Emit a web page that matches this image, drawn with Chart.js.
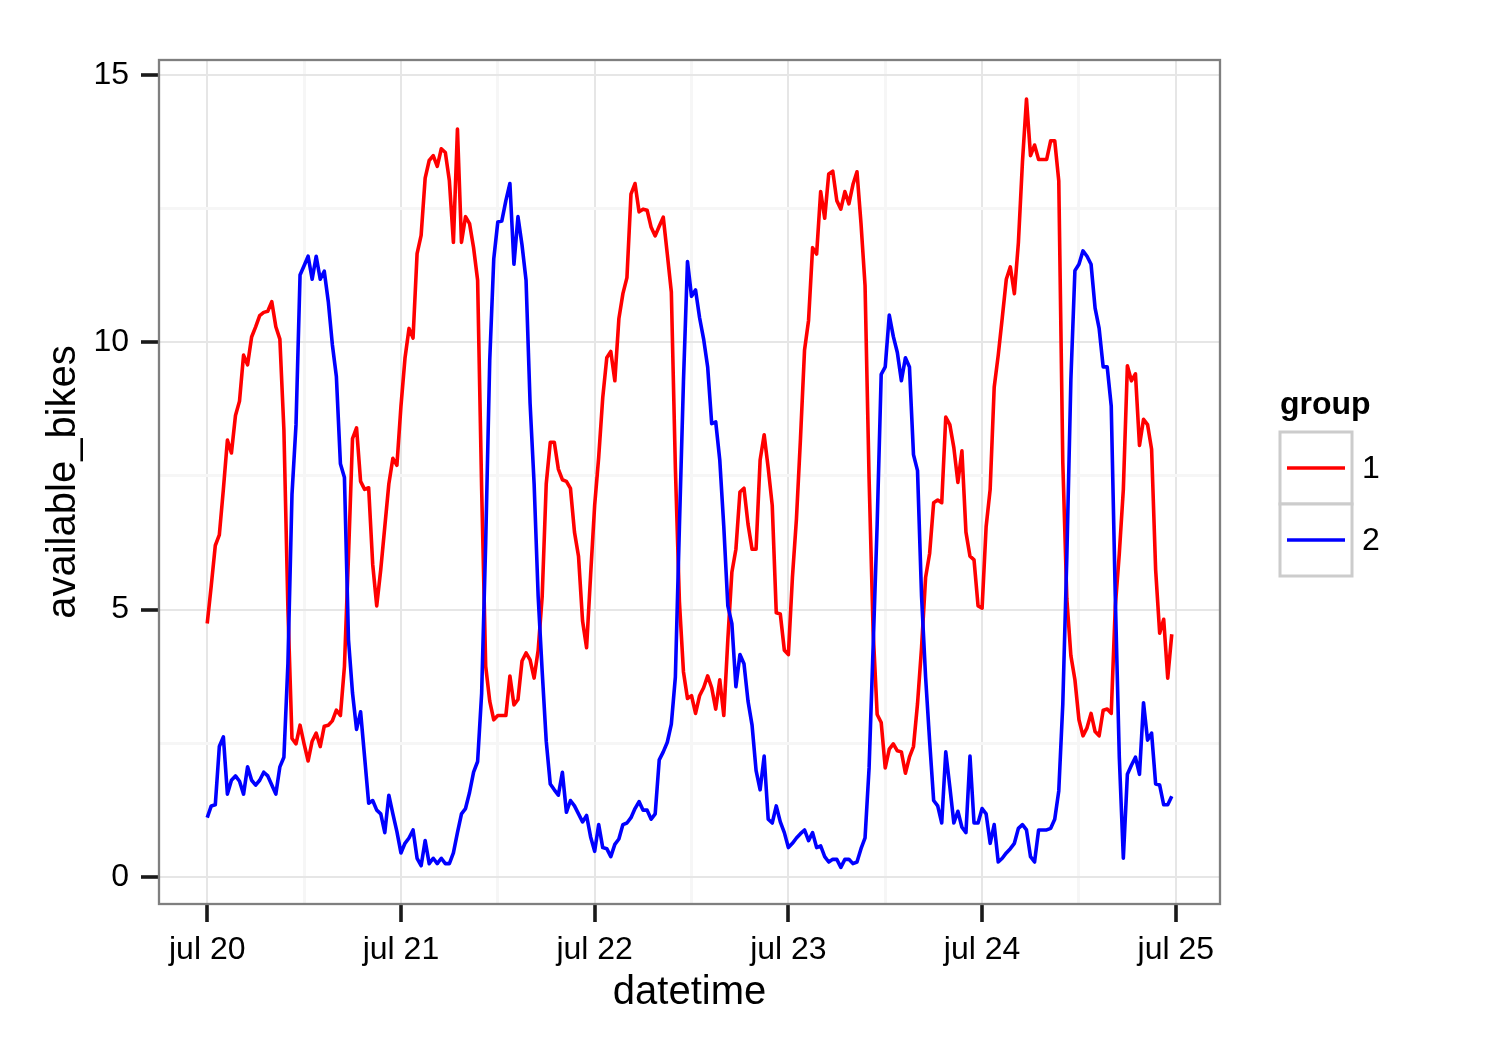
<!DOCTYPE html>
<html>
<head>
<meta charset="utf-8">
<script src="https://cdn.jsdelivr.net/npm/chart.js@4.4.1/dist/chart.umd.min.js"></script>
<style>
  html, body { margin: 0; padding: 0; background: #fff; }
  #wrap { width: 1500px; height: 1050px; }
</style>
</head>
<body>
<div id="wrap"><canvas id="bikesChart" width="1500" height="1050"></canvas></div>
<script>
// readings every half hour, starting jul 20 00:00
const stepHours = 0.5;

const group1Bikes = [
  4.74, 5.45, 6.2, 6.4, 7.25, 8.17, 7.93, 8.63, 8.9, 9.76, 9.58, 10.1,
  10.29, 10.5, 10.56, 10.58, 10.76, 10.29, 10.06, 8.36, 5.0, 2.59, 2.49, 2.84,
  2.49, 2.17, 2.54, 2.69, 2.44, 2.82, 2.84, 2.92, 3.12, 3.02, 3.94, 6.0,
  8.2, 8.4, 7.4, 7.25, 7.28, 5.85, 5.07, 5.75, 6.55, 7.35, 7.83, 7.7,
  8.8, 9.7, 10.26, 10.08, 11.66, 12.0, 13.07, 13.4, 13.49, 13.29, 13.62, 13.55,
  13.02, 11.87, 13.99, 11.87, 12.35, 12.22, 11.77, 11.16, 7.25, 3.94, 3.29, 2.94,
  3.02, 3.02, 3.02, 3.76, 3.22, 3.32, 4.04, 4.19, 4.06, 3.72, 4.24, 5.25,
  7.35, 8.13, 8.13, 7.63, 7.43, 7.4, 7.27, 6.45, 6.0, 4.79, 4.29, 5.65,
  6.95, 7.85, 8.96, 9.71, 9.83, 9.28, 10.44, 10.91, 11.21, 12.77, 12.97, 12.44,
  12.49, 12.47, 12.15, 11.99, 12.17, 12.34, 11.65, 10.94, 7.65, 5.15, 3.84, 3.34,
  3.39, 3.06, 3.39, 3.54, 3.76, 3.54, 3.14, 3.69, 3.02, 4.44, 5.7, 6.13,
  7.2, 7.27, 6.6, 6.13, 6.13, 7.8, 8.27, 7.65, 6.95, 4.94, 4.92, 4.24,
  4.16, 5.6, 6.7, 8.2, 9.85, 10.41, 11.77, 11.65, 12.82, 12.32, 13.15, 13.2,
  12.65, 12.49, 12.82, 12.59, 12.95, 13.19, 12.22, 11.06, 7.45, 4.6, 3.04, 2.89,
  2.04, 2.39, 2.49, 2.36, 2.34, 1.94, 2.24, 2.44, 3.24, 4.29, 5.6, 6.05,
  7.0, 7.05, 7.0, 8.6, 8.46, 8.03, 7.38, 7.97, 6.45, 6.0, 5.93, 5.07,
  5.03, 6.55, 7.25, 9.16, 9.76, 10.46, 11.18, 11.41, 10.91, 11.87, 13.37, 14.55,
  13.49, 13.69, 13.42, 13.42, 13.42, 13.77, 13.77, 13.02, 7.75, 5.2, 4.14, 3.69,
  2.94, 2.64, 2.79, 3.06, 2.72, 2.64, 3.12, 3.14, 3.06, 5.05, 6.05, 7.25,
  9.56, 9.28, 9.41, 8.07, 8.56, 8.46, 8.0, 5.75, 4.56, 4.82, 3.72, 4.54
];

const group2Bikes = [
  1.11, 1.33, 1.35, 2.44, 2.62, 1.55, 1.81, 1.89, 1.79, 1.55, 2.06, 1.81,
  1.72, 1.81, 1.96, 1.89, 1.72, 1.55, 2.06, 2.24, 4.0, 7.15, 8.46, 11.26,
  11.43, 11.61, 11.18, 11.61, 11.18, 11.33, 10.76, 9.96, 9.36, 7.73, 7.47, 4.44,
  3.44, 2.76, 3.09, 2.24, 1.38, 1.43, 1.25, 1.18, 0.83, 1.53, 1.18, 0.85,
  0.45, 0.63, 0.73, 0.88, 0.35, 0.21, 0.68, 0.25, 0.35, 0.25, 0.35, 0.25,
  0.25, 0.45, 0.83, 1.18, 1.28, 1.58, 1.96, 2.16, 3.44, 6.25, 9.66, 11.56,
  12.25, 12.27, 12.65, 12.97, 11.46, 12.35, 11.82, 11.16, 8.86, 7.35, 5.25, 3.84,
  2.54, 1.74, 1.63, 1.53, 1.96, 1.21, 1.43, 1.33, 1.18, 1.03, 1.15, 0.75,
  0.48, 0.98, 0.55, 0.53, 0.38, 0.61, 0.71, 0.98, 1.01, 1.11, 1.28, 1.41,
  1.25, 1.25, 1.08, 1.18, 2.19, 2.34, 2.52, 2.86, 3.74, 6.55, 9.26, 11.51,
  10.86, 10.98, 10.46, 10.06, 9.54, 8.48, 8.51, 7.8, 6.55, 5.07, 4.74, 3.56,
  4.16, 3.99, 3.29, 2.84, 1.99, 1.63, 2.26, 1.08, 1.01, 1.33, 1.03, 0.83,
  0.55, 0.63, 0.73, 0.81, 0.88, 0.68, 0.83, 0.55, 0.58, 0.38, 0.28, 0.33,
  0.33, 0.18, 0.33, 0.33, 0.25, 0.28, 0.53, 0.73, 2.04, 4.3, 6.6, 9.4,
  9.54, 10.51, 10.11, 9.81, 9.28, 9.71, 9.54, 7.9, 7.6, 5.25, 3.74, 2.54,
  1.43, 1.33, 1.01, 2.34, 1.69, 1.01, 1.23, 0.93, 0.83, 2.26, 1.01, 1.01,
  1.28, 1.18, 0.63, 0.98, 0.28, 0.35, 0.45, 0.53, 0.63, 0.91, 0.98, 0.88,
  0.38, 0.28, 0.88, 0.88, 0.88, 0.91, 1.08, 1.61, 3.24, 6.0, 9.3, 11.34,
  11.46, 11.71, 11.61, 11.46, 10.64, 10.26, 9.54, 9.54, 8.81, 5.25, 2.24, 0.35,
  1.92, 2.09, 2.24, 1.92, 3.26, 2.56, 2.69, 1.74, 1.72, 1.35, 1.35, 1.51
];

const groupLabels = ['1', '2'];
const groupColors = ['#FF0000', '#0000FF'];
const legendTitle = 'group';

const xTickHours = [0, 24, 48, 72, 96, 120];
const xTickLabels = ['jul 20', 'jul 21', 'jul 22', 'jul 23', 'jul 24', 'jul 25'];
const xMinorHours = [12, 36, 60, 84, 108];
const yTickValues = [0, 5, 10, 15];
const yMinorValues = [2.5, 7.5, 12.5];

const xTitle = 'datetime';
const yTitle = 'available_bikes';

const FONT = '"Liberation Sans", Arial, Helvetica, sans-serif';
const MAJOR_GRID = '#E6E6E6';
const MINOR_GRID = '#F6F6F6';
const TICK_COLOR = '#1a1a1a';
const LINE_W = 3.6;

function toPoints(values) {
  return values.map((v, i) => ({ x: i * stepHours, y: v }));
}

const isMajorX = v => xTickHours.includes(v);
const isMajorY = v => yTickValues.includes(v);

// ggplot-ish panel border and legend box
const ggExtras = {
  id: 'ggExtras',
  afterDatasetsDraw(chart) {
    const { ctx, chartArea: a } = chart;
    ctx.save();
    ctx.strokeStyle = '#7F7F7F';
    ctx.lineWidth = 2.3;
    ctx.strokeRect(a.left, a.top, a.right - a.left, a.bottom - a.top);
    ctx.restore();
  },
  afterDraw(chart) {
    const ctx = chart.ctx;
    const left = 1280, top = 432, keyW = 72, keyH = 72;
    ctx.save();
    ctx.fillStyle = '#000';
    ctx.font = 'bold 32px ' + FONT;
    ctx.textBaseline = 'alphabetic';
    ctx.textAlign = 'left';
    ctx.fillText(legendTitle, left, 414);
    chart.data.datasets.forEach((ds, i) => {
      const y = top + i * keyH;
      ctx.fillStyle = '#fff';
      ctx.fillRect(left, y, keyW, keyH);
      ctx.strokeStyle = '#CCCCCC';
      ctx.lineWidth = 3;
      ctx.strokeRect(left, y, keyW, keyH);
      ctx.beginPath();
      ctx.moveTo(left + 7, y + keyH / 2);
      ctx.lineTo(left + keyW - 7, y + keyH / 2);
      ctx.strokeStyle = ds.borderColor;
      ctx.lineWidth = LINE_W;
      ctx.stroke();
      ctx.fillStyle = '#000';
      ctx.font = '32px ' + FONT;
      ctx.textBaseline = 'middle';
      ctx.fillText(ds.label, left + keyW + 10, y + keyH / 2 + 1);
    });
    ctx.restore();
  }
};

const ctx = document.getElementById('bikesChart').getContext('2d');
const chart = new Chart(ctx, {
  type: 'line',
  data: {
    datasets: [
      {
        label: groupLabels[0],
        data: toPoints(group1Bikes),
        borderColor: groupColors[0],
        borderWidth: LINE_W,
        pointRadius: 0,
        tension: 0,
        borderJoinStyle: 'round',
        order: 2,
      },
      {
        label: groupLabels[1],
        data: toPoints(group2Bikes),
        borderColor: groupColors[1],
        borderWidth: LINE_W,
        pointRadius: 0,
        tension: 0,
        borderJoinStyle: 'round',
        order: 1,
      },
    ],
  },
  options: {
    responsive: false,
    animation: false,
    devicePixelRatio: 1,
    layout: { padding: { left: 0, top: 60, right: 280, bottom: 0 } },
    plugins: {
      legend: { display: false },
      tooltip: { enabled: false },
    },
    scales: {
      x: {
        type: 'linear',
        min: -5.975,
        max: 125.475,
        afterBuildTicks: axis => {
          axis.ticks = [...xTickHours, ...xMinorHours].sort((a, b) => a - b).map(v => ({ value: v }));
        },
        afterFit: scale => { scale.height = 146; },
        border: { display: false },
        grid: {
          color: c => isMajorX(c.tick.value) ? MAJOR_GRID : MINOR_GRID,
          lineWidth: c => isMajorX(c.tick.value) ? 2 : 3,
          tickColor: c => isMajorX(c.tick.value) ? TICK_COLOR : 'rgba(0,0,0,0)',
          tickWidth: 3.6,
          tickLength: 18,
        },
        ticks: {
          autoSkip: false,
          maxRotation: 0,
          minRotation: 0,
          padding: 9,
          color: '#000',
          font: { family: FONT, size: 32 },
          callback: v => {
            const i = xTickHours.indexOf(v);
            return i >= 0 ? xTickLabels[i] : '';
          },
        },
        title: {
          display: true,
          text: xTitle,
          color: '#000',
          font: { family: FONT, size: 40 },
          padding: { top: 0, bottom: 33.5 },
        },
      },
      y: {
        type: 'linear',
        min: -0.505,
        max: 15.28,
        afterBuildTicks: axis => {
          axis.ticks = [...yTickValues, ...yMinorValues].sort((a, b) => a - b).map(v => ({ value: v }));
        },
        afterFit: scale => { scale.width = 159; },
        border: { display: false },
        grid: {
          color: c => isMajorY(c.tick.value) ? MAJOR_GRID : MINOR_GRID,
          lineWidth: c => isMajorY(c.tick.value) ? 2 : 3,
          tickColor: c => isMajorY(c.tick.value) ? TICK_COLOR : 'rgba(0,0,0,0)',
          tickWidth: 3.6,
          tickLength: 18,
        },
        ticks: {
          padding: 12,
          color: '#000',
          font: { family: FONT, size: 32 },
          callback: v => isMajorY(v) ? String(v) : '',
        },
        title: {
          display: true,
          text: yTitle,
          color: '#000',
          font: { family: FONT, size: 40 },
          padding: { top: 40, bottom: 0 },
        },
      },
    },
  },
  plugins: [ggExtras],
});
</script>
</body>
</html>
